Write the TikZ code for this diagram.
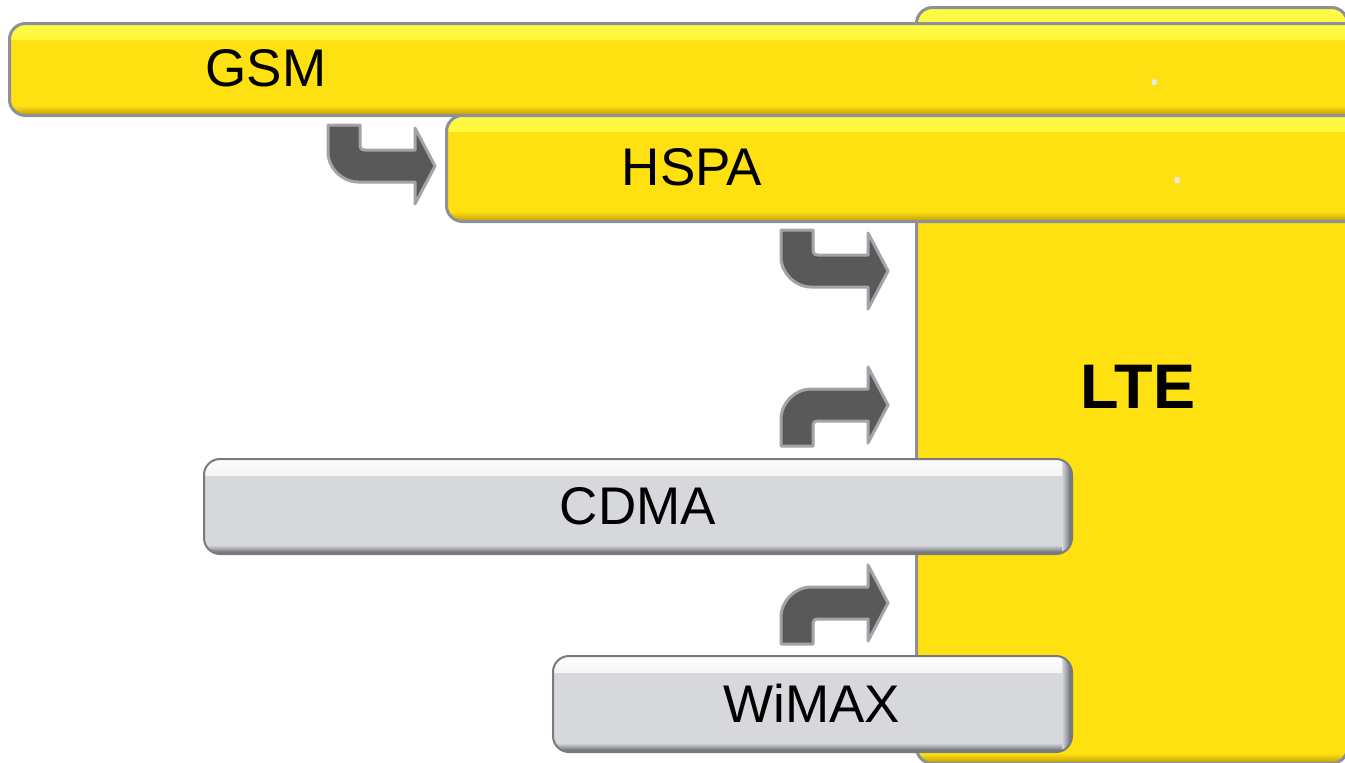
\documentclass[tikz,border=0pt]{standalone}
\usepackage{fontspec}
\setmainfont{Liberation Sans}
\definecolor{ylw}{RGB}{255,224,16}
\definecolor{ylwlight}{RGB}{255,250,70}
\definecolor{ylwdark}{RGB}{185,155,10}
\definecolor{ylwedge}{RGB}{142,144,152}
\definecolor{greyfill}{RGB}{215,216,220}
\definecolor{greylight}{RGB}{252,252,253}
\definecolor{greydark}{RGB}{90,92,100}
\definecolor{greyedge}{RGB}{120,122,130}
\definecolor{arrowfill}{RGB}{89,89,89}
\definecolor{arrowedge}{RGB}{162,164,170}
\definecolor{dotcol}{RGB}{232,232,240}
\tikzset{
  boxbase/.style={rectangle, rounded corners=16pt, inner sep=0pt, anchor=north west},
  yellowbar/.style={boxbase, fill=ylw, draw=ylwedge, line width=3pt,
    path picture={
      \shade[sharp corners, top color=ylwlight, bottom color=ylw]
        (path picture bounding box.north west) rectangle ([yshift=-16pt]path picture bounding box.north east);
      \shade[sharp corners, top color=ylw, bottom color=ylwdark]
        ([yshift=10pt]path picture bounding box.south west) rectangle (path picture bounding box.south east);
    }},
  greybar/.style={boxbase, fill=greyfill, draw=greyedge, line width=2pt,
    path picture={
      \shade[sharp corners, top color=greylight, bottom color=greyfill]
        (path picture bounding box.north west) rectangle ([yshift=-16pt]path picture bounding box.north east);
      \shade[sharp corners, left color=greyfill, right color=greydark]
        ([xshift=-10pt]path picture bounding box.north east) rectangle (path picture bounding box.south east);
      \shade[sharp corners, top color=greyfill, bottom color=greydark]
        ([yshift=9pt]path picture bounding box.south west) rectangle ([xshift=-10pt]path picture bounding box.south east);
    }},
  labeltext/.style={font=\fontsize{53}{60}\selectfont, text=black, inner sep=0pt},
  boldtext/.style={font=\fontsize{63}{70}\selectfont\bfseries, text=black, inner sep=0pt},
  dottext/.style={font=\fontsize{52}{60}\selectfont, text=dotcol, inner sep=0pt, anchor=base},
  arrowbody/.style={fill=arrowfill, draw=arrowedge, line width=3pt, line join=round},
  bendarrow/.pic={
    \filldraw[arrowbody] (-107,-41) -- (-75,-41) -- (-75,-22)
      .. controls (-75,-18) and (-74,-16) .. (-70,-16) -- (-20,-16) -- (-20,-38) -- (0,0)
      -- (-20,38) -- (-20,16) -- (-77,16)
      .. controls (-93,16) and (-107,2) .. (-107,-14) -- cycle;
  }
}
\begin{document}
\begin{tikzpicture}[x=1pt,y=-1pt]
  \useasboundingbox (0,0) rectangle (1345,763);
  \clip (0,0) rectangle (1345,763);
  \fill[white] (0,0) rectangle (1345,763);

  % target technology, behind everything
  \node[yellowbar, minimum width=431pt, minimum height=756pt] (lte) at (915,6) {};

  % 3GPP family
  \node[yellowbar, minimum width=1360pt, minimum height=92pt] (gsm) at (8,22) {};
  \node[yellowbar, minimum width=920pt, minimum height=106pt] (hspa) at (445,114) {};

  % other families
  \node[greybar, minimum width=868pt, minimum height=95pt] (cdma) at (203,458) {};
  \node[greybar, minimum width=519pt, minimum height=96pt] (wimax) at (552,655) {};

  % migration arrows
  \pic at (435,166) {bendarrow};
  \pic at (888,271) {bendarrow};
  \pic[yscale=-1] at (888,405) {bendarrow};
  \pic[yscale=-1] at (888,603) {bendarrow};

  % labels
  \node[labeltext] (gsm-label) at (266,68) {GSM};
  \node[labeltext] (hspa-label) at (692,167) {HSPA};
  \node[labeltext] (cdma-label) at (638,506) {CDMA};
  \node[labeltext] (wimax-label) at (812,703) {WiMAX};
  \node[boldtext] (lte-label) at (1138,387) {LTE};

  \node[dottext] (gsm-dot) at (1155,85) {.};
  \node[dottext] (hspa-dot) at (1178,183) {.};
\end{tikzpicture}
\end{document}
